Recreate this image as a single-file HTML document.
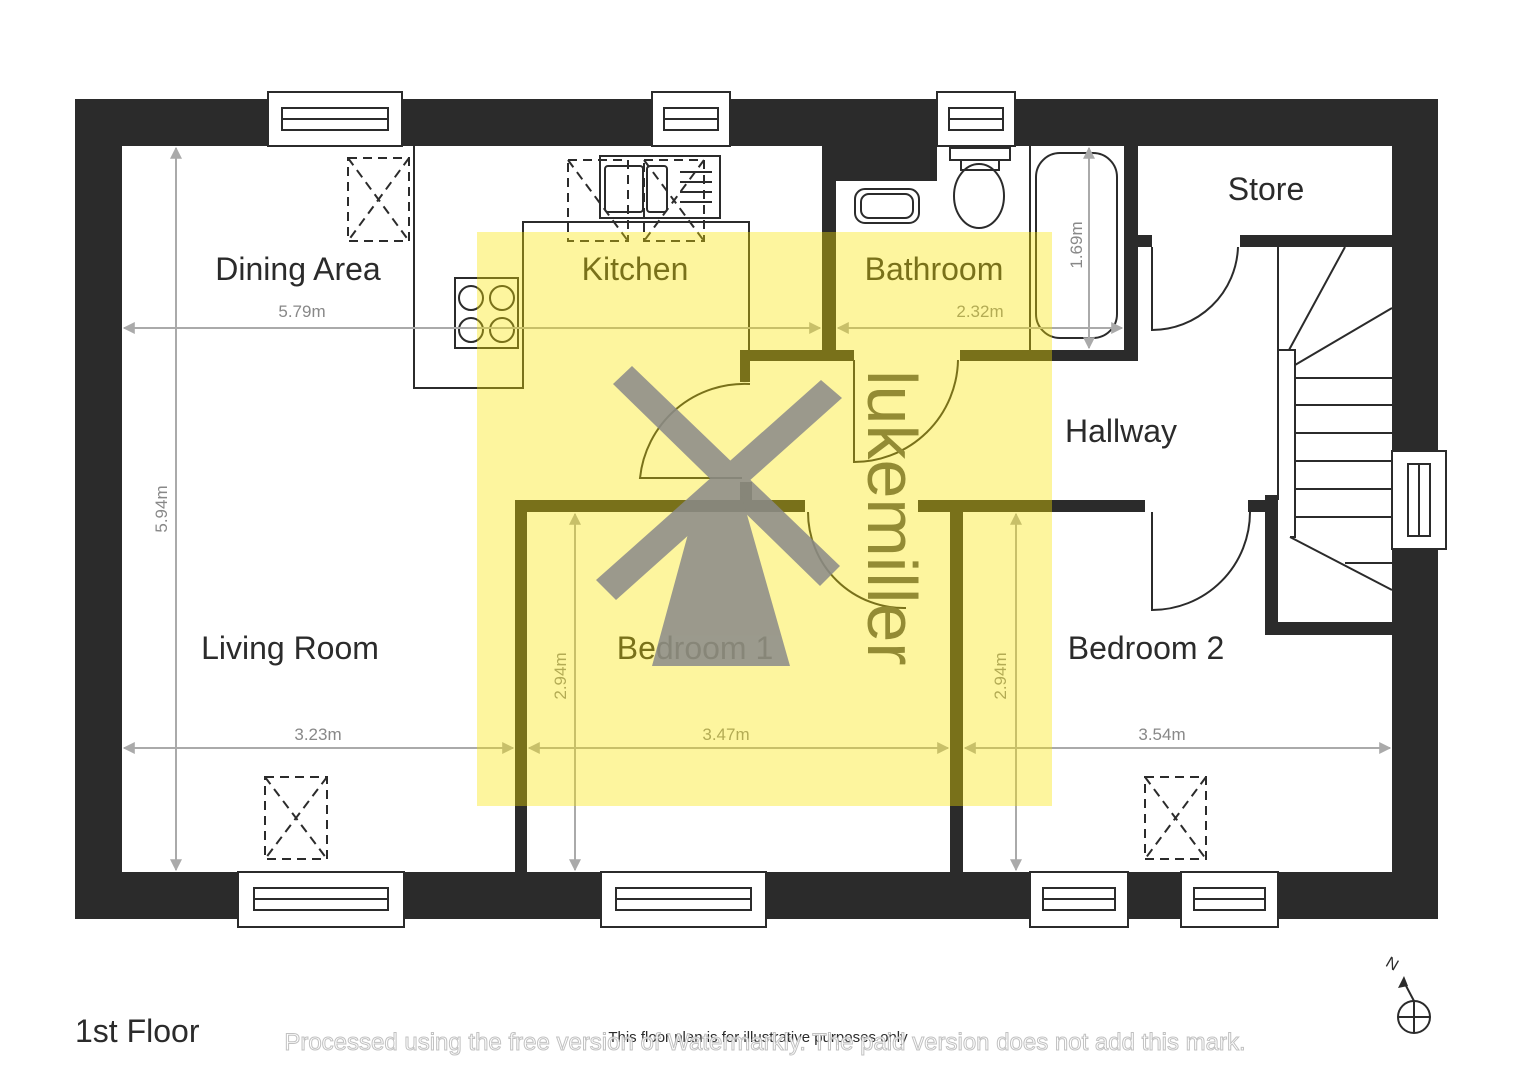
<!DOCTYPE html>
<html><head><meta charset="utf-8"><style>
html,body{margin:0;padding:0;background:#fff;}
svg{display:block;font-family:"Liberation Sans",sans-serif;}
</style></head><body>
<svg width="1529" height="1080" viewBox="0 0 1529 1080" xmlns="http://www.w3.org/2000/svg">
<defs>
<marker id="a" viewBox="0 0 10 10" refX="9" refY="5" markerWidth="6" markerHeight="6" orient="auto-start-reverse"><path d="M0,0 L10,5 L0,10 z" fill="#aaa"/></marker>
</defs>
<rect width="1529" height="1080" fill="#fff"/>
<path d="M75,99 H1438 V919 H75 Z M122,146 V872 H1392 V146 Z" fill="#2b2b2b" fill-rule="evenodd"/>
<g fill="#2b2b2b">
<rect x="822" y="146" width="14" height="214"/>
<rect x="836" y="146" width="101" height="35"/>
<rect x="740" y="350" width="110" height="11"/>
<rect x="740" y="350" width="10" height="32"/>
<rect x="840" y="350" width="14" height="11"/>
<rect x="960" y="350" width="178" height="11"/>
<rect x="1124" y="146" width="14" height="215"/>
<rect x="1138" y="235" width="14" height="12"/>
<rect x="1240" y="235" width="152" height="12"/>
<rect x="1265" y="495" width="13" height="140"/>
<rect x="1265" y="622" width="127" height="13"/>
<rect x="515" y="500" width="290" height="12"/>
<rect x="515" y="500" width="12" height="372"/>
<rect x="950" y="500" width="13" height="372"/>
<rect x="918" y="500" width="227" height="12"/>
<rect x="1248" y="500" width="17" height="12"/>
<rect x="740" y="482" width="12" height="18"/>
</g>
<g fill="#fff" stroke="#2b2b2b" stroke-width="2">
<rect x="268" y="92" width="134" height="54"/><rect x="282" y="108" width="106" height="22"/><line x1="282" y1="119" x2="388" y2="119"/>
<rect x="652" y="92" width="78" height="54"/><rect x="664" y="108" width="54" height="22"/><line x1="664" y1="119" x2="718" y2="119"/>
<rect x="937" y="92" width="78" height="54"/><rect x="949" y="108" width="54" height="22"/><line x1="949" y1="119" x2="1003" y2="119"/>
<rect x="238" y="872" width="166" height="55"/><rect x="254" y="888" width="134" height="22"/><line x1="254" y1="899" x2="388" y2="899"/>
<rect x="601" y="872" width="165" height="55"/><rect x="616" y="888" width="135" height="22"/><line x1="616" y1="899" x2="751" y2="899"/>
<rect x="1030" y="872" width="98" height="55"/><rect x="1043" y="888" width="72" height="22"/><line x1="1043" y1="899" x2="1115" y2="899"/>
<rect x="1181" y="872" width="97" height="55"/><rect x="1194" y="888" width="71" height="22"/><line x1="1194" y1="899" x2="1265" y2="899"/>
<rect x="1392" y="451" width="54" height="98"/><rect x="1408" y="464" width="22" height="72"/><line x1="1419" y1="464" x2="1419" y2="536"/>
</g>
<g fill="none" stroke="#2b2b2b" stroke-width="2">
<path d="M414,146 V388 H523 V222 H749 V350"/>
<rect x="455" y="278" width="63" height="70"/>
<circle cx="471" cy="298" r="12"/><circle cx="502" cy="298" r="12"/><circle cx="471" cy="330" r="12"/><circle cx="502" cy="330" r="12"/>
<rect x="600" y="156" width="120" height="62"/>
<rect x="605" y="166" width="38" height="46" rx="3"/><rect x="647" y="166" width="20" height="46" rx="3"/>
<path d="M680,172 H712 M680,182 H712 M680,192 H712 M680,202 H712"/>
<rect x="855" y="189" width="64" height="34" rx="10"/><rect x="861" y="194" width="52" height="24" rx="8"/>
<rect x="950" y="148" width="60" height="12"/><rect x="961" y="160" width="38" height="10"/>
<ellipse cx="979" cy="196" rx="25" ry="32"/>
<line x1="1030" y1="146" x2="1030" y2="350"/>
<rect x="1036" y="153" width="81" height="185" rx="24"/>
<path d="M1152,247 V330 A86,86 0 0 0 1238,247"/>
<path d="M1152,512 V610 A98,98 0 0 0 1250,512"/>
<path d="M750,384 A105,105 0 0 0 640,478 H742"/>
<path d="M854,360 V462 A104,104 0 0 0 958,360"/>
<path d="M808,512 A96,96 0 0 0 906,608"/>
<path d="M1278,247 V500 M1278,350 H1295 V537 H1290"/>
<path d="M1289,350 L1345,247 M1295,365 L1392,308"/>
<path d="M1295,378 H1392 M1295,405 H1392 M1295,433 H1392 M1295,461 H1392 M1295,489 H1392 M1295,517 H1392"/>
<path d="M1290,537 L1392,590 M1345,563 H1392"/>
</g>
<g fill="none" stroke="#2b2b2b" stroke-width="2" stroke-dasharray="9,6">
<rect x="348" y="158" width="61" height="83"/><path d="M348,158 L409,241 M409,158 L348,241"/>
<rect x="568" y="160" width="60" height="81"/><path d="M568,160 L628,241"/>
<rect x="644" y="160" width="60" height="81"/><path d="M644,160 L704,241 M704,160 L644,241"/>
<rect x="265" y="777" width="62" height="82"/><path d="M265,777 L327,859 M327,777 L265,859"/>
<rect x="1145" y="777" width="61" height="82"/><path d="M1145,777 L1206,859 M1206,777 L1145,859"/>
</g>
<g stroke="#aaa" stroke-width="2" fill="none">
<line x1="124" y1="328" x2="820" y2="328" marker-start="url(#a)" marker-end="url(#a)"/>
<line x1="838" y1="328" x2="1122" y2="328" marker-start="url(#a)" marker-end="url(#a)"/>
<line x1="176" y1="148" x2="176" y2="870" marker-start="url(#a)" marker-end="url(#a)"/>
<line x1="1089" y1="148" x2="1089" y2="348" marker-start="url(#a)" marker-end="url(#a)"/>
<line x1="124" y1="748" x2="513" y2="748" marker-start="url(#a)" marker-end="url(#a)"/>
<line x1="529" y1="748" x2="948" y2="748" marker-start="url(#a)" marker-end="url(#a)"/>
<line x1="965" y1="748" x2="1390" y2="748" marker-start="url(#a)" marker-end="url(#a)"/>
<line x1="575" y1="514" x2="575" y2="870" marker-start="url(#a)" marker-end="url(#a)"/>
<line x1="1016" y1="514" x2="1016" y2="870" marker-start="url(#a)" marker-end="url(#a)"/>
</g>
<g fill="#888" font-size="17" text-anchor="middle">
<text x="302" y="317">5.79m</text><text x="980" y="317">2.32m</text>
<text x="318" y="740">3.23m</text><text x="726" y="740">3.47m</text><text x="1162" y="740">3.54m</text>
<text transform="translate(167,509) rotate(-90)">5.94m</text>
<text transform="translate(1082,245) rotate(-90)">1.69m</text>
<text transform="translate(566,676) rotate(-90)">2.94m</text>
<text transform="translate(1006,676) rotate(-90)">2.94m</text>
</g>
<g fill="#2b2b2b" font-size="32" text-anchor="middle">
<text x="298" y="280">Dining Area</text><text x="635" y="280">Kitchen</text><text x="934" y="280">Bathroom</text>
<text x="1266" y="200">Store</text><text x="1121" y="442">Hallway</text>
<text x="290" y="659">Living Room</text><text x="695" y="659">Bedroom 1</text><text x="1146" y="659">Bedroom 2</text>
</g>
<text transform="translate(868,370) rotate(90)" font-size="70" fill="#555">lukemiller</text>
<rect x="477" y="232" width="575" height="574" fill="#fae500" opacity="0.38"/>
<g fill="#8a8a8a" opacity="0.85">
<path d="M613,384 L632,366 L840,566 L820,586 Z"/>
<path d="M821,380 L842,398 L616,600 L596,580 Z"/>
<path d="M700,490 L740,490 L790,666 L652,666 Z"/>
</g>
<text x="75" y="1042" font-size="32" fill="#2b2b2b">1st Floor</text>
<text x="758" y="1042" font-size="15" fill="#2b2b2b" text-anchor="middle">This floor plan is for illustrative purposes only</text>
<text x="765" y="1050" font-size="24" fill="#fff" stroke="#bbb" stroke-width="1" text-anchor="middle" opacity="0.9">Processed using the free version of Watermarkly. The paid version does not add this mark.</text>
<g stroke="#2b2b2b" stroke-width="2" fill="none">
<circle cx="1414" cy="1017" r="16"/><path d="M1398,1017 H1430 M1414,1001 V1033 M1414,1001 L1404,982"/>
</g>
<path d="M1404,976 L1398,988 L1408,986 Z" fill="#2b2b2b"/>
<text x="1386" y="970" font-size="16" fill="#2b2b2b" transform="rotate(30 1394 965)">N</text>
</svg>
</body></html>
